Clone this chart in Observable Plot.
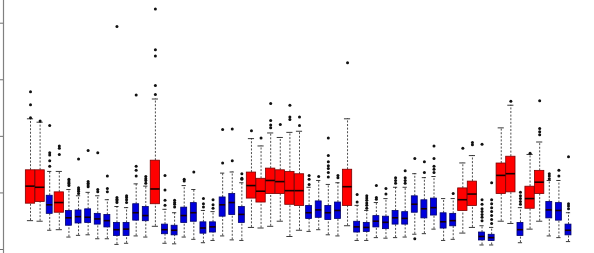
<!DOCTYPE html>
<html>
<head>
<meta charset="utf-8">
<script src="https://cdn.jsdelivr.net/npm/d3@7"></script>
<script src="https://cdn.jsdelivr.net/npm/@observablehq/plot@0.6"></script>
<style>
  html, body { margin: 0; padding: 0; background: #fff; }
  #chart svg { display: block; }
</style>
</head>
<body>
<div id="chart"></div>
<script>
// Group of each box: "R" = red, "B" = blue
const groups = ["R","R","B","R","B","B","B","B","B","B",
                "B","B","B","R","B","B","B","B","B","B",
                "B","B","B","R","R","R","R","R","R","B",
                "B","B","B","R","B","B","B","B","B","B",
                "B","B","B","B","B","R","R","B","B","R",
                "R","B","R","R","B","B","B"];
// upper whisker, upper quartile, median, lower quartile, lower whisker
const hiW = [2.31,2.25,1.38,1.38,1.06,0.95,1.01,0.95,0.88,0.76,
             0.74,1.16,1.12,2.66,0.71,0.65,1.13,1.06,0.69,0.67,
             1.35,1.37,1.18,1.96,1.83,2.06,1.98,2.07,2.09,1.10,
             1.22,1.15,1.18,2.31,0.78,0.69,0.83,0.90,1.10,1.10,
             1.34,1.27,1.29,0.90,0.90,1.53,1.66,0.42,0.39,2.15,
             2.55,0.74,1.68,1.90,1.22,1.22,0.65];
const q3 = [1.40,1.40,0.95,1.01,0.68,0.69,0.71,0.63,0.61,0.47,
            0.47,0.80,0.75,1.57,0.44,0.42,0.74,0.82,0.48,0.48,
            0.92,0.98,0.75,1.36,1.25,1.43,1.40,1.37,1.33,0.77,
            0.85,0.77,0.83,1.41,0.49,0.47,0.59,0.58,0.68,0.66,
            0.94,0.87,0.90,0.64,0.63,1.08,1.20,0.30,0.26,1.52,
            1.64,0.47,1.11,1.39,0.84,0.82,0.44];
const med = [1.12,1.10,0.79,0.83,0.56,0.58,0.57,0.54,0.51,0.35,
             0.36,0.65,0.60,1.07,0.35,0.34,0.60,0.65,0.38,0.40,
             0.79,0.83,0.62,1.13,1.03,1.22,1.20,1.04,1.04,0.65,
             0.70,0.65,0.69,1.11,0.40,0.39,0.50,0.48,0.56,0.55,
             0.80,0.72,0.74,0.49,0.51,0.88,0.98,0.23,0.21,1.31,
             1.34,0.35,0.90,1.19,0.70,0.69,0.34];
const q1 = [0.81,0.84,0.63,0.65,0.42,0.46,0.47,0.44,0.39,0.24,
            0.24,0.51,0.50,0.80,0.27,0.25,0.47,0.49,0.28,0.30,
            0.58,0.61,0.47,0.90,0.83,0.98,0.98,0.79,0.77,0.54,
            0.56,0.52,0.54,0.77,0.30,0.31,0.39,0.36,0.44,0.44,
            0.65,0.55,0.60,0.37,0.41,0.68,0.77,0.16,0.15,0.98,
            1.01,0.24,0.72,0.98,0.55,0.51,0.25];
const loW = [0.51,0.50,0.34,0.35,0.22,0.25,0.26,0.19,0.19,0.09,
             0.11,0.24,0.22,0.41,0.11,0.10,0.22,0.18,0.12,0.16,
             0.24,0.17,0.16,0.39,0.38,0.41,0.50,0.23,0.34,0.32,
             0.35,0.26,0.24,0.42,0.16,0.16,0.21,0.20,0.21,0.22,
             0.27,0.28,0.36,0.16,0.18,0.29,0.39,0.08,0.08,0.50,
             0.46,0.12,0.36,0.50,0.24,0.21,0.14];
const outliers = [
  [2.79,2.56,2.33], [2.27], [2.19,1.71,1.67,1.57,1.47], [1.83,1.79,1.68],
  [1.24,1.21,1.18,1.16,1.13], [1.60,1.09,1.06,1.03,0.99], [1.75,1.20,1.17,1.14,1.11],
  [1.71,1.06,1.02], [1.30,1.08,1.02], [3.94,0.92,0.89,0.86,0.83],
  [0.95,0.92,0.88,0.83], [2.73,1.47,1.40,1.30], [1.29,1.25,1.22,1.17],
  [4.25,3.53,3.42,2.90,2.74], [1.31,1.05,0.87,0.78], [0.87,0.83,0.80,0.75],
  [1.24,1.21], [1.37], [0.90,0.81,0.75], [0.88,0.79,0.73],
  [2.12,1.53], [2.13,1.57], [1.34,1.26,1.24], [2.10], [1.97],
  [2.58,2.28,2.20,2.15], [2.21], [2.55,2.34,2.30], [2.34,2.19],
  [1.31,1.24,1.15], [1.29], [1.97,1.66,1.55,1.48,1.43,1.36,1.28], [1.31,1.27],
  [3.30], [0.97,0.84], [0.95,0.91,0.87,0.82,0.78,0.73], [1.13,0.92,0.89],
  [1.08,0.98], [1.27,1.22,1.17], [1.39,1.27,1.22,1.17], [1.61,0.19],
  [1.55,1.36], [1.83,1.61,1.47,1.42,1.36], [], [0.99], [1.79], [1.89,1.85],
  [1.86,0.88,0.80,0.72,0.67,0.62,0.57,0.51], [1.18,0.88,0.81,0.74,0.67,0.60,0.53,0.46],
  [], [2.62], [1.01,0.95,0.90,0.85,0.80], [1.70], [2.63,2.14,2.08,2.03],
  [1.34,1.30,1.25], [1.40,1.30], [1.64,0.81,0.77,0.72]
];
const yTicks = [0, 1, 2, 3, 4];

const boxes = groups.map((g, k) => ({
  i: k + 1, g, hi: hiW[k], q3: q3[k], med: med[k], q1: q1[k], lo: loW[k]
}));
const outs = boxes.flatMap((b, k) => outliers[k].map(v => ({i: b.i, v})));
const halfW = b => b.g === "R" ? 0.485 : 0.31;
const capW = b => b.g === "R" ? 0.32 : 0.22;
const reds = boxes.filter(b => b.g === "R");
const blues = boxes.filter(b => b.g === "B");

const chart = Plot.plot({
  width: 594,
  height: 253,
  marginLeft: 3,
  marginRight: 0,
  marginTop: 0,
  marginBottom: 0,
  x: {domain: [1, 57], range: [30, 568], axis: null},
  y: {domain: [0, 4], range: [249, 22.7], axis: null},
  style: {background: "#fff"},
  marks: [
    Plot.frame({anchor: "left", stroke: "#808080", strokeWidth: 1.2}),
    Plot.axisY({anchor: "left", ticks: yTicks, tickSize: 3, tickFormat: () => "", label: null, stroke: "#707070"}),
    Plot.ruleX(boxes, {x: "i", y1: "q3", y2: "hi", stroke: "#222", strokeWidth: 0.8, strokeDasharray: "2,1.6"}),
    Plot.ruleX(boxes, {x: "i", y1: "lo", y2: "q1", stroke: "#222", strokeWidth: 0.8, strokeDasharray: "2,1.6"}),
    Plot.ruleY(boxes, {y: "hi", x1: b => b.i - capW(b), x2: b => b.i + capW(b), stroke: "#222", strokeWidth: 0.9}),
    Plot.ruleY(boxes, {y: "lo", x1: b => b.i - capW(b), x2: b => b.i + capW(b), stroke: "#222", strokeWidth: 0.9}),
    Plot.rect(reds, {x1: b => b.i - halfW(b), x2: b => b.i + halfW(b), y1: "q1", y2: "q3", fill: "#ff0000", stroke: "#7a0000", strokeWidth: 0.8}),
    Plot.rect(blues, {x1: b => b.i - halfW(b), x2: b => b.i + halfW(b), y1: "q1", y2: "q3", fill: "#0000dd", stroke: "#00006a", strokeWidth: 0.8}),
    Plot.ruleY(boxes, {y: "med", x1: b => b.i - halfW(b), x2: b => b.i + halfW(b), stroke: "#1a0000", strokeWidth: 1.6}),
    Plot.dot(outs, {x: "i", y: "v", r: 1.5, fill: "#111", stroke: "none"})
  ]
});
document.getElementById("chart").appendChild(chart);
</script>
</body>
</html>
